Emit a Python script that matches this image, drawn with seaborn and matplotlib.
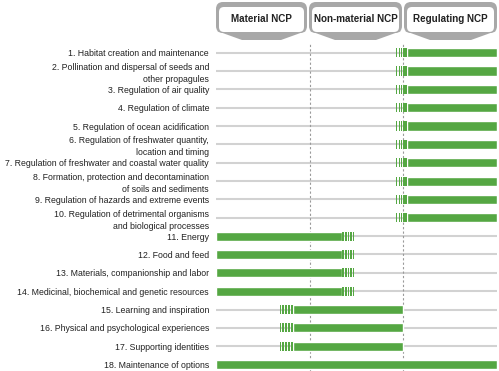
import numpy as np
import matplotlib
matplotlib.use("Agg")
import matplotlib.pyplot as plt
from matplotlib.patches import FancyBboxPatch, Polygon
import seaborn as sns

# --- data ---
labels = [
    "1. Habitat creation and maintenance",
    "2. Pollination and dispersal of seeds and\nother propagules",
    "3. Regulation of air quality",
    "4. Regulation of climate",
    "5. Regulation of ocean acidification",
    "6. Regulation of freshwater quantity,\nlocation and timing",
    "7. Regulation of freshwater and coastal water quality",
    "8. Formation, protection and decontamination\nof soils and sediments",
    "9. Regulation of hazards and extreme events",
    "10. Regulation of detrimental organisms\nand biological processes",
    "11. Energy",
    "12. Food and feed",
    "13. Materials, companionship and labor",
    "14. Medicinal, biochemical and genetic resources",
    "15. Learning and inspiration",
    "16. Physical and psychological experiences",
    "17. Supporting identities",
    "18. Maintenance of options",
]
# solid part of each bar (in column units: 0-1 material, 1-2 non-material, 2-3 regulating)
solid_start = [2.04] * 10 + [0.0] * 4 + [0.82] * 3 + [0.0]
solid_end = [3.0] * 10 + [1.35] * 4 + [2.0] * 3 + [3.0]
# far end of the faded (striped) part, None = no fade
fade_end = [1.91] * 10 + [1.49] * 4 + [0.66] * 3 + [None]

columns = ["Material NCP", "Non-material NCP", "Regulating NCP"]

GREEN = "#55a743"
TAB_GRAY = "#a8a8a8"
W, H = 499, 371

sns.set_theme(style="white")
plt.rcParams["font.family"] = ["Liberation Sans", "DejaVu Sans"]

fig = plt.figure(figsize=(W / 100, H / 100), dpi=100)

# main axes placed in pixels
left, right = 216, 497
top, bottom = 43.5, 371
ax = fig.add_axes([left / W, 1 - bottom / H, (right - left) / W, (bottom - top) / H])

y = np.arange(len(labels))
ax.hlines(y, 0, 3, color="#d2d2d2", lw=1.5, zorder=1)
ax.barh(y, np.array(solid_end) - np.array(solid_start), left=solid_start,
        height=0.5, color=GREEN, zorder=3)

# fades drawn as thin stripes between solid edge and fade end
n_stripes = 5
for i, fe in enumerate(fade_end):
    if fe is None:
        continue
    edge = solid_start[i] if fe < solid_start[i] else solid_end[i]
    step = (fe - edge) / n_stripes
    for k in range(n_stripes):
        frac = 0.75 - 0.08 * k
        ax.barh(i, step * frac, left=edge + step * k, height=0.5,
                color=GREEN, zorder=3, lw=0)

for xd in (1, 2):
    ax.axvline(xd, color="#9a9a9a", lw=0.8, ls=(0, (2, 2)), zorder=2)

ax.set_xlim(0, 3)
ax.set_ylim(17.35, -0.5)
ax.set_yticks(y)
ax.set_yticklabels(labels, fontsize=6.3, color="#222222", linespacing=1.4)
ax.tick_params(axis="y", length=0, pad=5)
ax.set_xticks([])
sns.despine(ax=ax, left=True, bottom=True)

# header tabs, in pixel coordinates
hax = fig.add_axes([left / W, 1 - top / H, (right - left) / W, top / H])
hax.set_xlim(left, right)
hax.set_ylim(top, 0)
hax.axis("off")
tab_edges = [(216, 307), (309, 402), (404, 497)]
for (x0, x1), name in zip(tab_edges, columns):
    outer = FancyBboxPatch((x0 + 6, 8), x1 - x0 - 12, 19,
                           boxstyle="round,pad=6,rounding_size=7",
                           fc=TAB_GRAY, ec="none")
    hax.add_patch(outer)
    chev = Polygon([(x0 + 1, 31), (x1 - 1, 31), (x1 - 26, 40), (x0 + 26, 40)],
                   closed=True, fc=TAB_GRAY, ec="none")
    hax.add_patch(chev)
    inner = FancyBboxPatch((x0 + 7, 11), x1 - x0 - 14, 17,
                           boxstyle="round,pad=4,rounding_size=5",
                           fc="white", ec="none")
    hax.add_patch(inner)
    hax.text((x0 + x1) / 2, 19.5, name, ha="center", va="center",
             fontsize=7.1, fontweight="bold", color="#222222")

fig.savefig("out.png", dpi=100)
